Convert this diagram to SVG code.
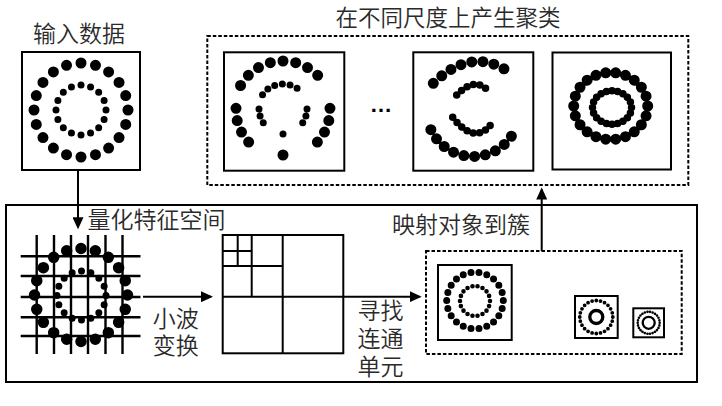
<svg xmlns="http://www.w3.org/2000/svg" width="722" height="406" viewBox="0 0 722 406">
<style>
.box{fill:none;stroke:#000;stroke-width:2}
.dash{fill:none;stroke:#000;stroke-width:2;stroke-dasharray:3.5 2}
.lbl{font-family:"Noto Sans CJK SC","Noto Sans",sans-serif;font-size:23px;font-weight:350;fill:#2a2a2a}
.ring{fill:none;stroke:#000;stroke-linecap:round;stroke-dasharray:0 1}
.ln{stroke:#000;stroke-width:2.4;fill:none}
.arr{stroke:#000;stroke-width:2;fill:none;marker-end:url(#ah)}
</style>
<defs>
<marker id="ah" markerWidth="13" markerHeight="11" refX="10" refY="5.5" orient="auto" markerUnits="userSpaceOnUse">
<path d="M0,0 L12,5.5 L0,11 Z" fill="#000"/>
</marker>
</defs>
<rect width="722" height="406" fill="#fff"/>

<g id="input">
<text class="lbl" x="79" y="41.5" text-anchor="middle">输入数据</text>
<rect class="box" x="22" y="52" width="118" height="118" stroke-width="2.4"/>
<circle class="ring" cx="81" cy="110" r="47" stroke-width="11" pathLength="20"/>
<circle class="ring" cx="81" cy="110" r="25" stroke-width="7" pathLength="16"/>
</g>

<g id="clusters">
<text class="lbl" x="448" y="26" text-anchor="middle" style="font-size:22.5px">在不同尺度上产生聚类</text>
<rect class="dash" x="207.3" y="36" width="481" height="149"/>
<g id="clusterA">
<rect class="box" x="224" y="52.3" width="120.3" height="118.4"/>
<path class="ring" d="M240.56,85.5 A49,49 0 0 1 325.44,85.5" stroke-width="11" pathLength="8"/>
<path class="ring" d="M236.03,108.36 A47,47 0 0 0 258.1,149.86" stroke-width="11" pathLength="4"/>
<path class="ring" d="M329.97,108.36 A47,47 0 0 1 307.9,149.86" stroke-width="11" pathLength="4"/>
<circle cx="283" cy="155" r="5.5"/>
<path class="ring" d="M262.52,94.66 A25,25 0 0 1 302.7,93.61" stroke-width="7" pathLength="6"/>
<path class="ring" d="M259,109 A24,24 0 0 0 268.22,127.91" stroke-width="7" pathLength="3"/>
<path class="ring" d="M307,109 A24,24 0 0 1 297.78,127.91" stroke-width="7" pathLength="3"/>
<circle cx="283" cy="134" r="3.5"/>
</g>
<text x="381" y="112" text-anchor="middle" style="font-family:'Liberation Sans',sans-serif;font-weight:bold;font-size:22.5px;fill:#000">…</text>
<g id="clusterB">
<rect class="box" x="413.3" y="52.3" width="120" height="118.4"/>
<path class="ring" d="M433.3,83.3 Q473.3,44.3 513.3,75" stroke-width="11" pathLength="8"/>
<path class="ring" d="M430.86,129.65 A46.5,46.5 0 0 0 516.4,126.7" stroke-width="11" pathLength="10"/>
<path class="ring" d="M456.7,95 Q476.6,74.5 490,93.3" stroke-width="7.5" pathLength="6"/>
<path class="ring" d="M452.7,117.3 Q476.6,148 494,120" stroke-width="7.5" pathLength="8"/>
</g>
<g id="clusterC">
<rect class="box" x="552.5" y="52.5" width="118.5" height="117"/>
<ellipse class="ring" cx="610.7" cy="106" rx="37" ry="33.5" stroke-width="11" pathLength="22"/>
<ellipse class="ring" cx="612" cy="107.5" rx="19.5" ry="16.7" stroke-width="7.5" pathLength="20"/>
</g>
</g>

<g id="process">
<rect class="box" x="6" y="205" width="691" height="177"/>
</g>

<g id="grid">
<text class="lbl" x="156.5" y="228" text-anchor="middle">量化特征空间</text>
<path class="ln" d="M36.7,235V354M54,235V354M71,235V354M88,235V354M105.5,235V354M122.5,235V354M20.7,256.3H140.5M20.7,276H140.5M20.7,297H140.5M20.7,317.3H140.5M20.7,336H140.5"/>
<circle class="ring" cx="81" cy="295" r="46.5" stroke-width="11.5" pathLength="20"/>
<circle class="ring" cx="81.5" cy="295.5" r="24.5" stroke-width="7" pathLength="16"/>
</g>

<g id="wavelet">
<rect class="box" x="222.7" y="235" width="120.6" height="118.3"/>
<path class="box" d="M282.7,235V353.3M222.7,296.7H343.3M251.7,235V296.7M222.7,266H282.7M237.7,235V266M222.7,251H251.7"/>
</g>

<g id="mapped">
<text class="lbl" x="461" y="233" text-anchor="middle">映射对象到簇</text>
<rect class="dash" x="426" y="251" width="255.7" height="103"/>
<rect class="box" x="438" y="265" width="73.7" height="75"/>
<circle class="ring" cx="475" cy="300.5" r="28.3" stroke-width="7" pathLength="22"/>
<circle class="ring" cx="475" cy="301" r="15" stroke-width="4.6" pathLength="18"/>
<rect class="box" x="575" y="296" width="42.7" height="42"/>
<circle class="ring" cx="596.3" cy="317" r="16.5" stroke-width="3.8" pathLength="24"/>
<circle cx="596.3" cy="317" r="6.5" fill="none" stroke="#000" stroke-width="3.3"/>
<rect class="box" x="633.3" y="308.3" width="30.7" height="29"/>
<circle class="ring" cx="648.7" cy="322.8" r="11" stroke-width="2.6" pathLength="26"/>
<circle cx="648.7" cy="322.8" r="6" fill="none" stroke="#000" stroke-width="2.3"/>
</g>

<g id="connectors">
<path class="arr" d="M78,170 L78,227.3"/>
<path class="arr" d="M143,296.7 L211,296.7"/>
<path class="arr" d="M343.3,296.7 L419.7,296.7"/>
<path class="arr" d="M541.7,251 L541.7,189.5"/>
<text class="lbl" text-anchor="middle"><tspan x="175.8" y="326.5">小波</tspan><tspan x="175.8" y="354">变换</tspan></text>
<text class="lbl" text-anchor="middle"><tspan x="380.5" y="318.5">寻找</tspan><tspan x="380.5" y="346.5">连通</tspan><tspan x="380.5" y="375">单元</tspan></text>
</g>
</svg>
